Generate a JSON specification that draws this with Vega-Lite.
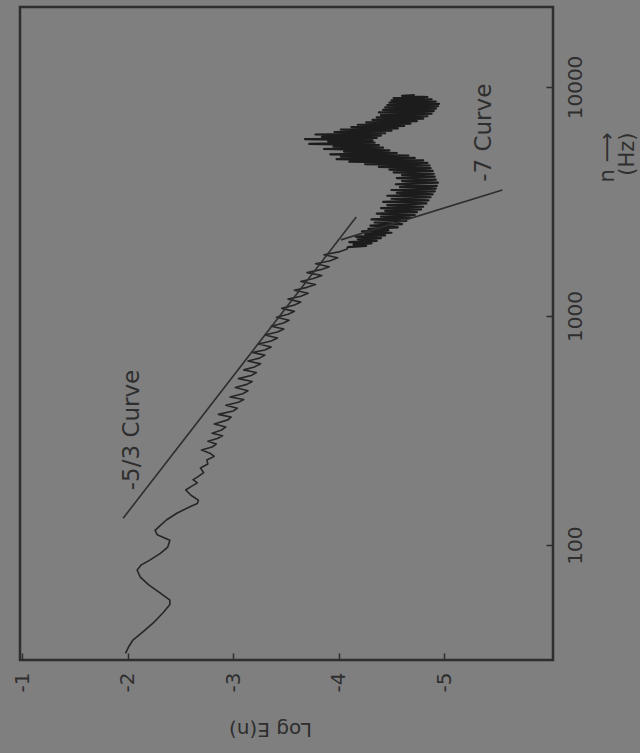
{
  "$schema": "https://vega.github.io/schema/vega-lite/v6.json",
  "width": 533,
  "height": 653,
  "autosize": {"type": "none"},
  "padding": {"left": 20, "top": 7, "right": 87, "bottom": 93},
  "background": "#7f7f7f",
  "config": {
    "font": "DejaVu Sans",
    "view": {"stroke": "#2e2e2e", "strokeWidth": 2.5, "fill": "#7f7f7f"},
    "axis": {"grid": false, "domain": false, "tickColor": "#2e2e2e", "tickWidth": 1.5, "labelColor": "#2e2e2e", "titleColor": "#2e2e2e", "labelFontSize": 20, "titleFontSize": 20, "titleFontWeight": "normal"}
  },
  "datasets": {
    "spectrum": [
      {"n": 33.7, "e": -1.98}, {"n": 36, "e": -2.01}, {"n": 38.5, "e": -2.05}, {"n": 42, "e": -2.15}, {"n": 45.6, "e": -2.24},
      {"n": 50.9, "e": -2.34}, {"n": 55, "e": -2.40}, {"n": 57.5, "e": -2.40}, {"n": 61.7, "e": -2.31}, {"n": 67, "e": -2.20},
      {"n": 72.4, "e": -2.12}, {"n": 77.8, "e": -2.09}, {"n": 82, "e": -2.13}, {"n": 86, "e": -2.21}, {"n": 92, "e": -2.31},
      {"n": 98, "e": -2.38}, {"n": 105, "e": -2.40}, {"n": 111, "e": -2.28}, {"n": 116, "e": -2.26}, {"n": 122, "e": -2.31},
      {"n": 129, "e": -2.37}, {"n": 138, "e": -2.47}, {"n": 147, "e": -2.59}, {"n": 152, "e": -2.66}, {"n": 157, "e": -2.67},
      {"n": 165, "e": -2.60}, {"n": 174, "e": -2.55}, {"n": 180, "e": -2.60}, {"n": 187, "e": -2.66}, {"n": 193, "e": -2.62},
      {"n": 198, "e": -2.66}, {"n": 207, "e": -2.72}, {"n": 217, "e": -2.69}, {"n": 226, "e": -2.76}, {"n": 235, "e": -2.75},
      {"n": 244, "e": -2.82}, {"n": 252, "e": -2.78}, {"n": 260, "e": -2.70}, {"n": 268, "e": -2.80}, {"n": 276, "e": -2.84},
      {"n": 284, "e": -2.76}, {"n": 292, "e": -2.85}, {"n": 300, "e": -2.90}, {"n": 308, "e": -2.80}, {"n": 318, "e": -2.89},
      {"n": 328, "e": -2.93}, {"n": 338, "e": -2.82}, {"n": 352, "e": -2.95}, {"n": 362, "e": -2.98}, {"n": 372, "e": -2.86},
      {"n": 385, "e": -3.00}, {"n": 396, "e": -3.04}, {"n": 408, "e": -2.93}, {"n": 420, "e": -3.05}, {"n": 432, "e": -3.10},
      {"n": 443, "e": -2.97}, {"n": 458, "e": -3.09}, {"n": 472, "e": -3.14}, {"n": 487, "e": -3.02}, {"n": 503, "e": -3.13},
      {"n": 518, "e": -3.18}, {"n": 533, "e": -3.05}, {"n": 550, "e": -3.17}, {"n": 566, "e": -3.22}, {"n": 582, "e": -3.10},
      {"n": 599, "e": -3.20}, {"n": 618, "e": -3.26}, {"n": 636, "e": -3.14}, {"n": 655, "e": -3.25}, {"n": 675, "e": -3.30},
      {"n": 693, "e": -3.18}, {"n": 711, "e": -3.30}, {"n": 733, "e": -3.36}, {"n": 755, "e": -3.24}, {"n": 778, "e": -3.36},
      {"n": 802, "e": -3.42}, {"n": 826, "e": -3.30}, {"n": 851, "e": -3.42}, {"n": 877, "e": -3.48}, {"n": 903, "e": -3.36},
      {"n": 930, "e": -3.47}, {"n": 958, "e": -3.53}, {"n": 987, "e": -3.41}, {"n": 1017, "e": -3.52}, {"n": 1048, "e": -3.58},
      {"n": 1080, "e": -3.46}, {"n": 1117, "e": -3.58}, {"n": 1150, "e": -3.64}, {"n": 1185, "e": -3.52}, {"n": 1220, "e": -3.64},
      {"n": 1257, "e": -3.71}, {"n": 1295, "e": -3.58}, {"n": 1334, "e": -3.70}, {"n": 1374, "e": -3.78}, {"n": 1415, "e": -3.64},
      {"n": 1458, "e": -3.76}, {"n": 1502, "e": -3.84}, {"n": 1547, "e": -3.70}, {"n": 1594, "e": -3.83}, {"n": 1642, "e": -3.91},
      {"n": 1691, "e": -3.78}, {"n": 1742, "e": -3.92}, {"n": 1795, "e": -3.99}, {"n": 1850, "e": -3.86}, {"n": 1905, "e": -4.00},
      {"n": 1960, "e": -4.08},
      {"n": 2000, "e": -4.08}, {"n": 2025, "e": -4.26}, {"n": 2050, "e": -4.14}, {"n": 2075, "e": -4.31}, {"n": 2100, "e": -4.10},
      {"n": 2130, "e": -4.36}, {"n": 2160, "e": -4.18}, {"n": 2190, "e": -4.40}, {"n": 2220, "e": -4.16}, {"n": 2250, "e": -4.44},
      {"n": 2280, "e": -4.25}, {"n": 2310, "e": -4.50}, {"n": 2340, "e": -4.22}, {"n": 2370, "e": -4.47}, {"n": 2400, "e": -4.28},
      {"n": 2440, "e": -4.56}, {"n": 2480, "e": -4.30}, {"n": 2520, "e": -4.60}, {"n": 2560, "e": -4.34}, {"n": 2600, "e": -4.64},
      {"n": 2640, "e": -4.31}, {"n": 2680, "e": -4.68}, {"n": 2720, "e": -4.40}, {"n": 2760, "e": -4.72}, {"n": 2800, "e": -4.36},
      {"n": 2840, "e": -4.74}, {"n": 2880, "e": -4.44}, {"n": 2920, "e": -4.78}, {"n": 2960, "e": -4.40}, {"n": 3000, "e": -4.80},
      {"n": 3050, "e": -4.46}, {"n": 3100, "e": -4.83}, {"n": 3150, "e": -4.42}, {"n": 3200, "e": -4.85}, {"n": 3250, "e": -4.50},
      {"n": 3300, "e": -4.87}, {"n": 3350, "e": -4.46}, {"n": 3400, "e": -4.89}, {"n": 3450, "e": -4.55}, {"n": 3500, "e": -4.91},
      {"n": 3550, "e": -4.50}, {"n": 3600, "e": -4.92}, {"n": 3650, "e": -4.58}, {"n": 3700, "e": -4.93}, {"n": 3760, "e": -4.54},
      {"n": 3820, "e": -4.94}, {"n": 3880, "e": -4.60}, {"n": 3940, "e": -4.92}, {"n": 4000, "e": -4.55}, {"n": 4060, "e": -4.91},
      {"n": 4120, "e": -4.60}, {"n": 4180, "e": -4.90}, {"n": 4240, "e": -4.52}, {"n": 4300, "e": -4.89}, {"n": 4360, "e": -4.48},
      {"n": 4420, "e": -4.87}, {"n": 4480, "e": -4.38}, {"n": 4540, "e": -4.86}, {"n": 4600, "e": -4.25}, {"n": 4660, "e": -4.84},
      {"n": 4720, "e": -4.10}, {"n": 4780, "e": -4.80}, {"n": 4840, "e": -3.98}, {"n": 4900, "e": -4.72}, {"n": 4960, "e": -4.02},
      {"n": 5020, "e": -4.66}, {"n": 5080, "e": -3.92}, {"n": 5150, "e": -4.55}, {"n": 5220, "e": -4.05}, {"n": 5290, "e": -4.48},
      {"n": 5360, "e": -3.86}, {"n": 5430, "e": -4.42}, {"n": 5500, "e": -3.95}, {"n": 5570, "e": -4.38}, {"n": 5640, "e": -3.72},
      {"n": 5710, "e": -4.34}, {"n": 5780, "e": -3.90}, {"n": 5850, "e": -4.32}, {"n": 5920, "e": -3.68}, {"n": 5990, "e": -4.36},
      {"n": 6060, "e": -3.84}, {"n": 6130, "e": -4.40}, {"n": 6200, "e": -3.78}, {"n": 6280, "e": -4.44}, {"n": 6360, "e": -3.96},
      {"n": 6440, "e": -4.50}, {"n": 6520, "e": -4.02}, {"n": 6600, "e": -4.56}, {"n": 6680, "e": -4.12}, {"n": 6760, "e": -4.62},
      {"n": 6840, "e": -4.18}, {"n": 6920, "e": -4.68}, {"n": 7000, "e": -4.26}, {"n": 7090, "e": -4.74}, {"n": 7180, "e": -4.32},
      {"n": 7270, "e": -4.80}, {"n": 7360, "e": -4.36}, {"n": 7450, "e": -4.84}, {"n": 7540, "e": -4.40}, {"n": 7640, "e": -4.88},
      {"n": 7740, "e": -4.38}, {"n": 7840, "e": -4.90}, {"n": 7940, "e": -4.42}, {"n": 8040, "e": -4.92}, {"n": 8140, "e": -4.44},
      {"n": 8240, "e": -4.94}, {"n": 8340, "e": -4.46}, {"n": 8440, "e": -4.95}, {"n": 8540, "e": -4.48}, {"n": 8640, "e": -4.92},
      {"n": 8740, "e": -4.50}, {"n": 8840, "e": -4.88}, {"n": 8940, "e": -4.52}, {"n": 9040, "e": -4.84}, {"n": 9140, "e": -4.60},
      {"n": 9220, "e": -4.72}
    ],
    "fits": [
      {"g": "-5/3", "n": 131, "e": -1.957}, {"g": "-5/3", "n": 2704, "e": -4.166},
      {"g": "-7", "n": 2150, "e": -4.02}, {"g": "-7", "n": 3548, "e": -5.55}
    ],
    "labels": [
      {"n": 318, "e": -2.04, "t": "-5/3 Curve"},
      {"n": 6310, "e": -5.38, "t": "-7 Curve"}
    ]
  },
  "encoding": {
    "x": {
      "field": "e", "type": "quantitative",
      "scale": {"domain": [-6.03, -0.98], "reverse": true, "nice": false, "zero": false},
      "axis": {
        "orient": "bottom", "values": [-1, -2, -3, -4, -5],
        "labelExpr": "'-' + abs(datum.value)",
        "labelAngle": -90, "labelAlign": "center", "labelBaseline": "middle",
        "tickSize": -7, "labelPadding": 29,
        "title": "Log E(n)", "titleAngle": 180, "titleAlign": "center", "titleBaseline": "middle",
        "titleX": 250, "titleY": 68
      }
    },
    "y": {
      "field": "n", "type": "quantitative",
      "scale": {"type": "log", "domain": [31.5, 22340], "nice": false},
      "axis": {
        "orient": "right", "values": [100, 1000, 10000], "format": "d",
        "labelAngle": -90, "labelAlign": "center", "labelBaseline": "middle",
        "tickSize": -7, "labelPadding": 29,
        "title": ["n ⟶", "(Hz)"], "titleAngle": -90, "titleAlign": "right", "titleBaseline": "middle",
        "titleFontSize": 21, "titleLineHeight": 20, "titleX": 54, "titleY": 125
      }
    }
  },
  "layer": [
    {
      "data": {"name": "spectrum"},
      "transform": [{"filter": "datum.n <= 2000"}],
      "mark": {"type": "line", "color": "#262626", "strokeWidth": 1.6, "strokeJoin": "round"},
      "encoding": {"order": {"field": "n", "type": "quantitative"}}
    },
    {
      "data": {"name": "spectrum"},
      "transform": [{"filter": "datum.n >= 2000"}],
      "mark": {"type": "line", "color": "#1c1c1c", "strokeWidth": 2.2, "strokeJoin": "round"},
      "encoding": {"order": {"field": "n", "type": "quantitative"}}
    },
    {
      "data": {"name": "fits"},
      "mark": {"type": "line", "color": "#2e2e2e", "strokeWidth": 1.6},
      "encoding": {"detail": {"field": "g"}, "order": {"field": "n", "type": "quantitative"}}
    },
    {
      "data": {"name": "labels"},
      "mark": {"type": "text", "angle": -90, "align": "center", "baseline": "middle", "fontSize": 23, "color": "#2e2e2e"},
      "encoding": {"text": {"field": "t"}}
    }
  ]
}
